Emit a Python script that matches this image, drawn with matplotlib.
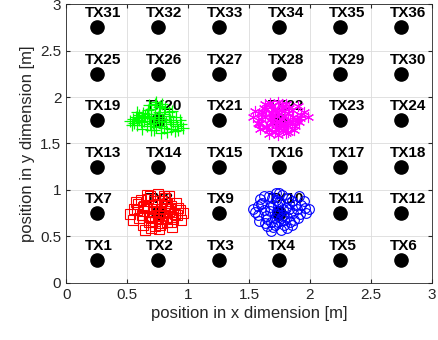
import matplotlib.pyplot as plt

plt.rcParams['font.family'] = ['Liberation Sans', 'DejaVu Sans']

# ---------- transmitter grid ----------
tx_cols = [0.25, 0.75, 1.25, 1.75, 2.25, 2.75]
tx_rows = [0.25, 0.75, 1.25, 1.75, 2.25, 2.75]

# ---------- estimated positions ----------
red_x = [0.52, 0.56, 0.60, 0.64, 0.68, 0.72, 0.76, 0.80, 0.84, 0.88, 0.92, 0.96,
         0.55, 0.59, 0.63, 0.67, 0.71, 0.75, 0.79, 0.83, 0.87, 0.91,
         0.58, 0.62, 0.66, 0.70, 0.74, 0.78, 0.82, 0.86, 0.90,
         0.61, 0.65, 0.69, 0.73, 0.77, 0.81, 0.85, 0.89, 0.94,
         0.64, 0.68, 0.72, 0.76, 0.80, 0.84,
         0.57, 0.63, 0.70, 0.75, 0.81, 0.87, 0.93,
         0.66, 0.73, 0.79, 0.86, 0.69, 0.77, 0.83]
red_y = [0.74, 0.79, 0.70, 0.83, 0.66, 0.88, 0.72, 0.93, 0.77, 0.69, 0.81, 0.75,
         0.68, 0.85, 0.62, 0.90, 0.76, 0.96, 0.64, 0.86, 0.60, 0.73,
         0.78, 0.73, 0.81, 0.59, 0.84, 0.80, 0.70, 0.65, 0.86,
         0.89, 0.57, 0.94, 0.67, 0.62, 0.91, 0.80, 0.74, 0.68,
         0.77, 0.71, 0.79, 0.58, 0.75, 0.93,
         0.87, 0.82, 0.65, 0.70, 0.84, 0.71, 0.78,
         0.95, 0.61, 0.88, 0.83, 0.72, 0.76, 0.66]

green_x = [0.55, 0.60, 0.58, 0.64, 0.67, 0.62, 0.70, 0.73, 0.69, 0.76,
           0.74, 0.79, 0.72, 0.81, 0.78, 0.84, 0.86, 0.83, 0.88, 0.91,
           0.94, 0.89, 0.96, 0.52, 0.57, 0.63, 0.68, 0.71, 0.75, 0.77,
           0.80, 0.66, 0.61, 0.59, 0.85, 0.92, 0.87, 0.74, 0.70, 0.82,
           0.65, 0.78, 0.73, 0.90, 0.56, 0.68, 0.79, 0.84, 0.62, 0.76,
           0.54, 0.60, 0.66, 0.72, 0.80, 0.86, 0.93, 0.58, 0.70, 0.76]
green_y = [1.76, 1.81, 1.70, 1.74, 1.86, 1.66, 1.79, 1.92, 1.71, 1.84,
           1.95, 1.76, 1.65, 1.88, 1.69, 1.80, 1.66, 1.62, 1.73, 1.69,
           1.71, 1.63, 1.67, 1.74, 1.79, 1.83, 1.77, 1.72, 1.78, 1.90,
           1.82, 1.69, 1.73, 1.77, 1.75, 1.64, 1.85, 1.68, 1.87, 1.73,
           1.80, 1.61, 1.82, 1.79, 1.72, 1.91, 1.93, 1.84, 1.78, 1.74,
           1.70, 1.75, 1.82, 1.76, 1.67, 1.71, 1.75, 1.84, 1.64, 1.89]

mag_x = [1.53, 1.57, 1.61, 1.65, 1.69, 1.73, 1.77, 1.81, 1.85, 1.89, 1.93, 1.98,
         1.55, 1.59, 1.63, 1.67, 1.71, 1.75, 1.79, 1.83, 1.87, 1.91,
         1.58, 1.62, 1.66, 1.70, 1.74, 1.78, 1.82, 1.86, 1.95,
         1.60, 1.64, 1.68, 1.72, 1.76, 1.80, 1.84, 1.90,
         1.63, 1.67, 1.71, 1.75, 1.79, 1.88,
         1.66, 1.70, 1.74, 1.78, 1.82, 1.69, 1.73, 1.77, 1.61, 1.85,
         1.92, 1.76, 1.72, 1.64, 1.80]
mag_y = [1.78, 1.72, 1.84, 1.68, 1.90, 1.74, 1.93, 1.70, 1.86, 1.76, 1.81, 1.79,
         1.85, 1.66, 1.79, 1.94, 1.62, 1.82, 1.69, 1.88, 1.64, 1.73,
         1.71, 1.88, 1.60, 1.77, 1.95, 1.65, 1.83, 1.79, 1.84,
         1.76, 1.68, 1.83, 1.71, 1.86, 1.61, 1.74, 1.90,
         1.92, 1.75, 1.87, 1.67, 1.80, 1.69,
         1.64, 1.81, 1.59, 1.89, 1.62, 1.73, 1.84, 1.76, 1.82, 1.71,
         1.77, 1.70, 1.66, 1.87, 1.93]

blue_x = [1.53, 1.57, 1.61, 1.65, 1.69, 1.73, 1.77, 1.81, 1.85, 1.89, 1.93, 1.97,
          1.55, 1.59, 1.63, 1.67, 1.71, 1.75, 1.79, 1.83, 1.87, 1.91, 1.99,
          1.58, 1.62, 1.66, 1.70, 1.74, 1.78, 1.82, 1.86, 1.90, 1.95,
          1.60, 1.64, 1.68, 1.72, 1.76, 1.80, 1.84, 1.88,
          1.62, 1.67, 1.71, 1.75, 1.79, 1.83, 1.92,
          1.68, 1.73, 1.78, 1.65, 1.74, 1.81, 1.70, 1.76, 1.85, 1.57, 1.96, 1.72]
blue_y = [0.80, 0.73, 0.86, 0.69, 0.91, 0.77, 0.95, 0.71, 0.88, 0.79, 0.84, 0.75,
          0.76, 0.90, 0.64, 0.82, 0.70, 0.87, 0.62, 0.80, 0.68, 0.93, 0.79,
          0.67, 0.78, 0.94, 0.60, 0.83, 0.73, 0.91, 0.75, 0.70, 0.88,
          0.85, 0.72, 0.66, 0.89, 0.57, 0.81, 0.65, 0.84,
          0.93, 0.77, 0.62, 0.97, 0.68, 0.86, 0.74,
          0.56, 0.74, 0.80, 0.61, 0.65, 0.59, 0.84, 0.70, 0.62, 0.83, 0.81, 0.97]

# ---------- plot ----------
fig = plt.figure(figsize=(4.38, 3.40), dpi=100)
ax = fig.add_axes([0.151, 0.168, 0.835, 0.820])

n = 1
for ty in tx_rows:
    for tx in tx_cols:
        ax.plot(tx, ty, 'o', color='black', markersize=9.5, zorder=3)
        ax.text(tx - 0.095, ty + 0.15, 'TX%d' % n, fontsize=11, fontweight='bold',
                ha='left', va='center', zorder=4)
        n += 1

ax.plot(red_x, red_y, 's', mfc='none', mec='red', markersize=6.5, mew=0.8, zorder=5)
ax.plot(green_x, green_y, '+', color='#00ff00', markersize=8, mew=0.9, zorder=5)
ax.plot(mag_x, mag_y, marker=(6, 2, 0), linestyle='none', color='magenta',
        markersize=8, mew=0.8, zorder=5)
ax.plot(blue_x, blue_y, 'o', mfc='none', mec='blue', markersize=7, mew=0.8, zorder=5)

ax.set_xlim(0, 3)
ax.set_ylim(0, 3)
ax.set_xticks([0, 0.5, 1, 1.5, 2, 2.5, 3])
ax.set_yticks([0, 0.5, 1, 1.5, 2, 2.5, 3])
ax.set_xticklabels(['0', '0.5', '1', '1.5', '2', '2.5', '3'])
ax.set_yticklabels(['0', '0.5', '1', '1.5', '2', '2.5', '3'])
ax.grid(True, color='#dcdcdc', linewidth=0.6)
ax.set_axisbelow(True)
ax.tick_params(direction='in', length=3, labelsize=11, colors='#262626',
               top=True, right=True)
for s in ax.spines.values():
    s.set_color('#262626')
    s.set_linewidth(0.6)

ax.set_xlabel('position in x dimension [m]', fontsize=12, color='#262626', labelpad=3)
ax.set_ylabel('position in y dimension [m]', fontsize=12, color='#262626', labelpad=4)

fig.savefig('out.png', dpi=100)
